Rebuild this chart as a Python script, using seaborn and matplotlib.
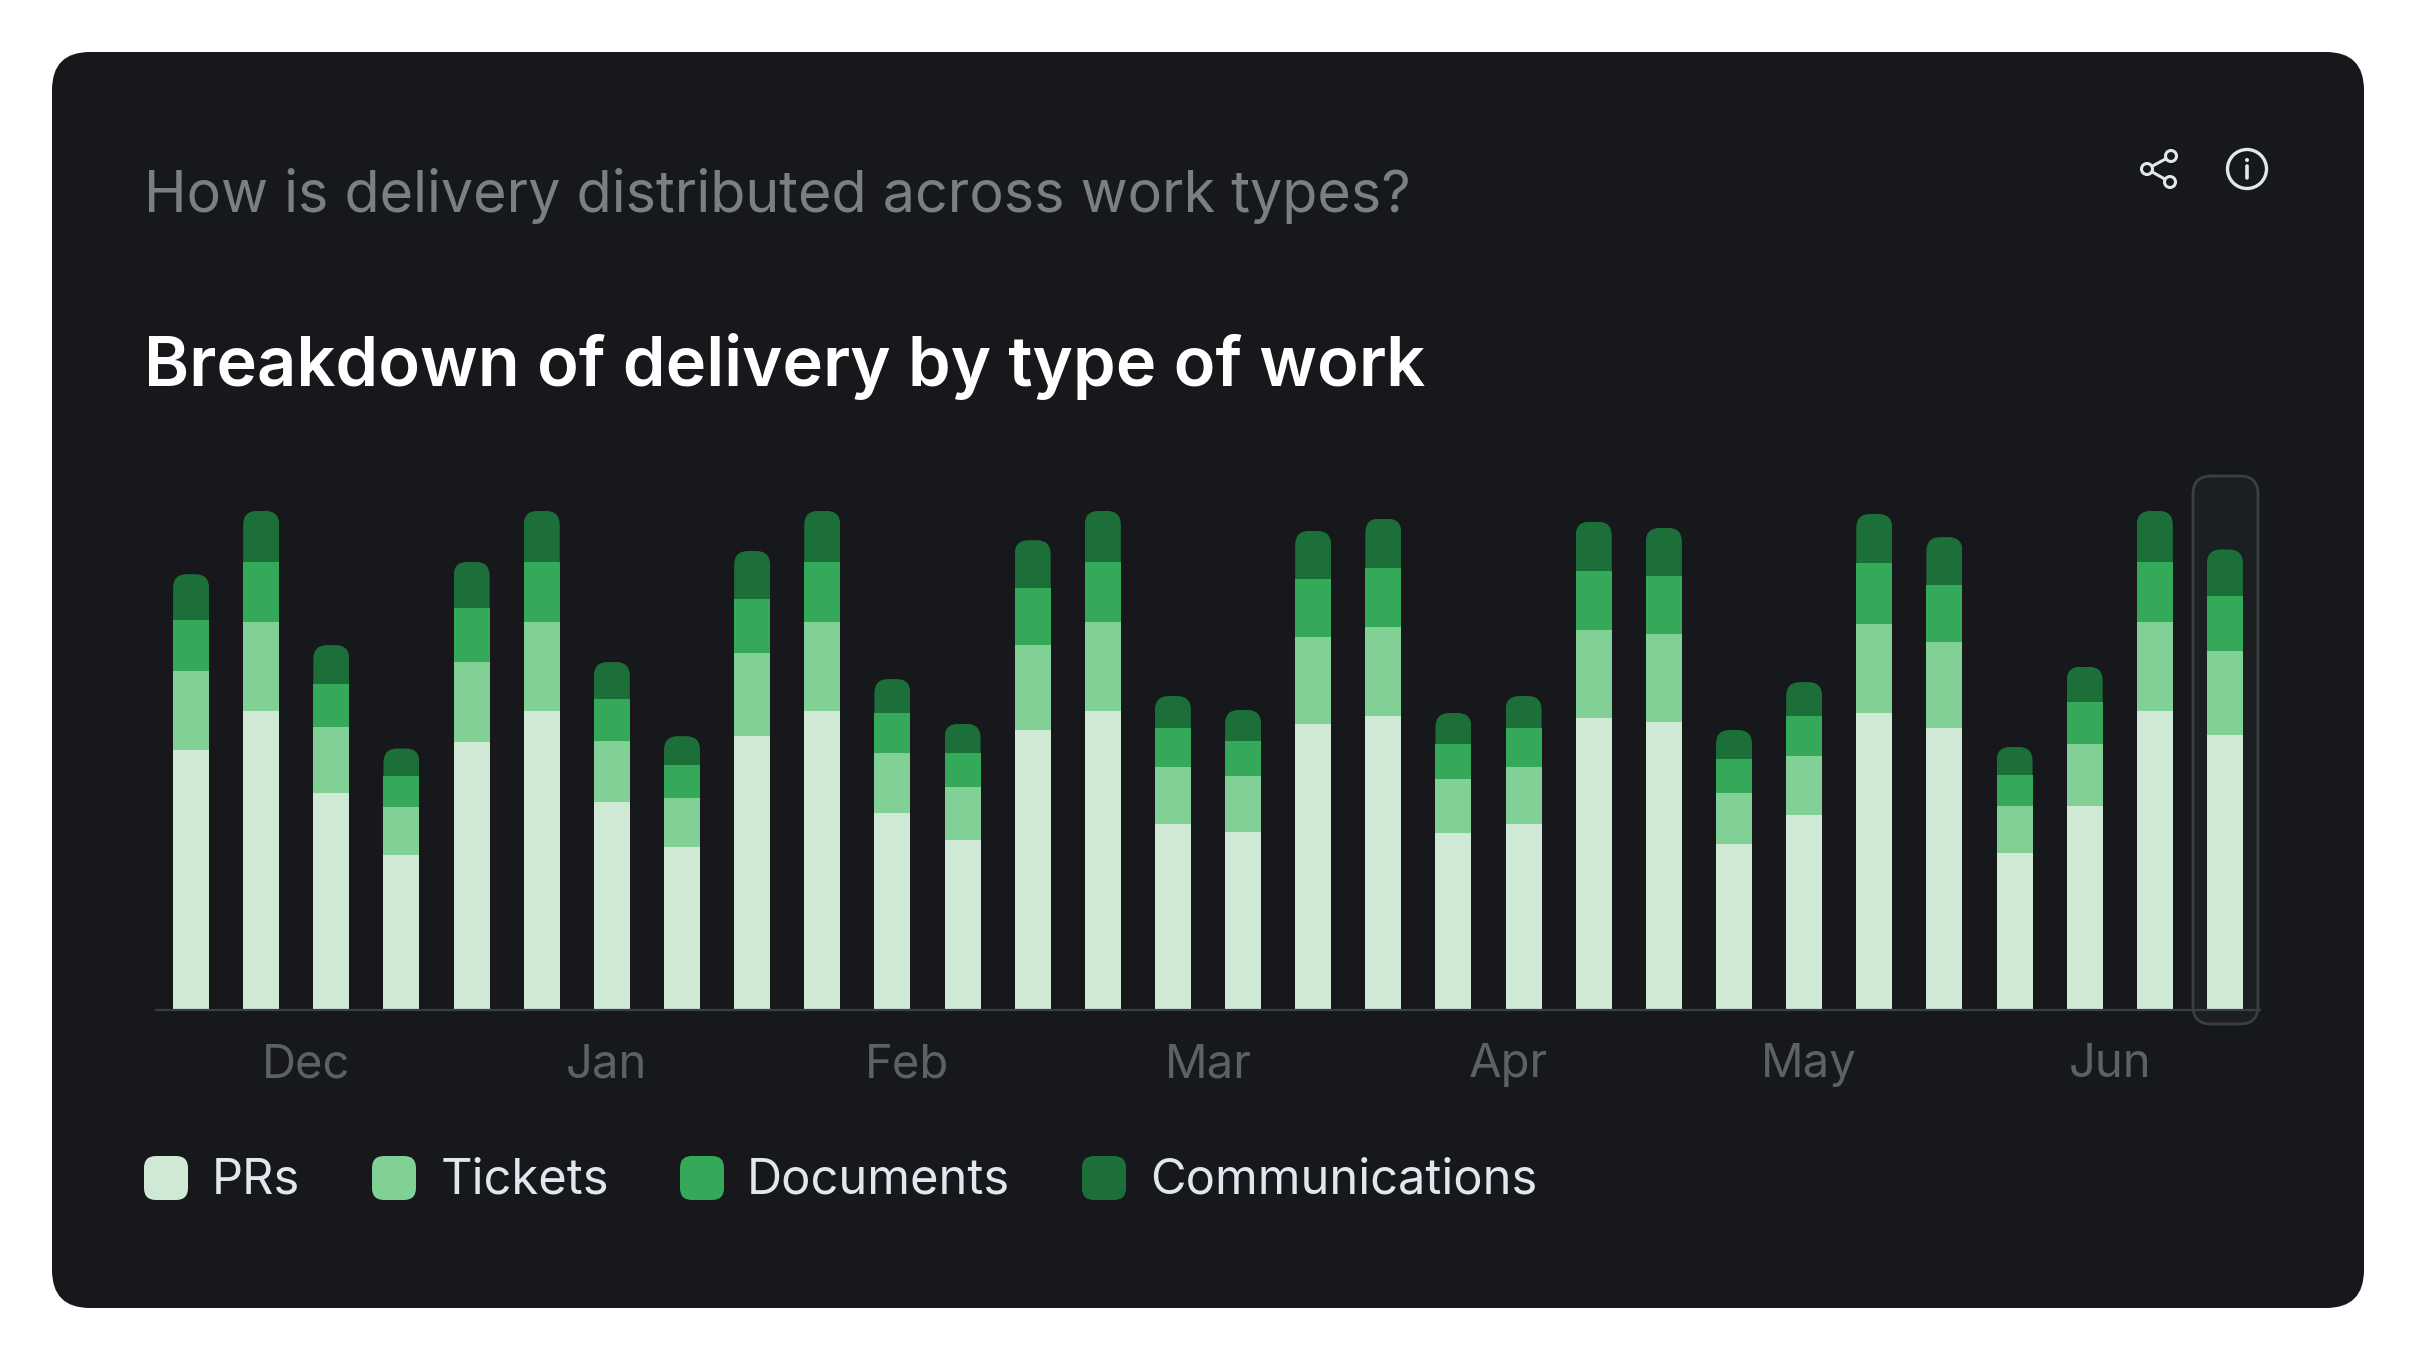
import numpy as np
import pandas as pd
import seaborn as sns
import matplotlib
matplotlib.use('Agg')
import matplotlib.pyplot as plt
from matplotlib.patches import FancyBboxPatch, Circle
from matplotlib.transforms import IdentityTransform

W, H = 2416, 1360

prs = [168.5, 193.5, 140.5, 100.5, 173.5, 193.5, 134.5, 105.5, 177.5, 193.5,
       127.5, 110.5, 181.5, 193.5, 120.5, 115.5, 185.5, 190.5, 114.5, 120.5,
       189.5, 186.5, 107.5, 126.5, 192.5, 182.5, 101.5, 132.5, 193.5, 178.5]
tickets = [51, 58, 43, 31, 52, 58, 40, 32, 54, 58, 39, 34, 55, 58, 37,
           36, 56, 58, 35, 37, 57, 57, 33, 38, 58, 56, 31, 40, 58, 54]
documents = [33, 39, 28, 20, 35, 39, 27, 21, 35, 39, 26, 22, 37, 39, 25,
             23, 38, 38, 23, 25, 38, 38, 22, 26, 39, 37, 20, 27, 39, 36]
communications = [30, 33, 25, 18, 30, 33, 24, 19, 31, 33, 22, 19, 31, 33, 21,
                  20, 31, 32, 20, 21, 32, 31, 19, 22, 32, 31, 18, 23, 33, 30]
months = ['Dec', 'Jan', 'Feb', 'Mar', 'Apr', 'May', 'Jun']
types = ['PRs', 'Tickets', 'Documents', 'Communications']
colors = ['#d0e9d5', '#81d196', '#34a95a', '#1d6f39']

BG = '#16181c'

sns.set_theme(style='white')
plt.rcParams['font.family'] = ['Inter', 'DejaVu Sans']

df = pd.DataFrame({'week': range(len(prs)), 'PRs': prs, 'Tickets': tickets,
                   'Documents': documents, 'Communications': communications})
long_df = df.melt(id_vars='week', var_name='type', value_name='count')

fig = plt.figure(figsize=(W / 100, H / 100), dpi=100, facecolor='white')

# card layer, in pixels
bg = fig.add_axes([0, 0, 1, 1], zorder=0)
bg.set_xlim(0, W)
bg.set_ylim(H, 0)
bg.axis('off')
bg.add_patch(FancyBboxPatch((52, 52), 2312, 1256, boxstyle='round,pad=0,rounding_size=38',
                            fc=BG, ec='none'))
bg.add_patch(FancyBboxPatch((2193, 476), 65, 548, boxstyle='round,pad=0,rounding_size=18',
                            fc='#1c1f22', ec='#3b3e42', lw=2))

bg.text(144, 196, 'How is delivery distributed across work types?', color='#7b7f83',
        fontsize=41.4, va='center', ha='left')
bg.text(144, 366, 'Breakdown of delivery by type of work', color='white',
        fontsize=49.4, fontweight='semibold', va='center', ha='left')

# share icon
icon = '#e3e6ea'
nodes = [(2147, 169), (2171, 156), (2170, 182)]
bg.plot([nodes[1][0], nodes[0][0], nodes[2][0]], [nodes[1][1], nodes[0][1], nodes[2][1]],
        color=icon, lw=2.2, zorder=3)
for n in nodes:
    bg.add_patch(Circle(n, 5.5, fc=BG, ec=icon, lw=2.2, zorder=4))
# info icon
bg.add_patch(Circle((2247, 169), 19.5, fc='none', ec=icon, lw=2.4))
bg.plot([2247, 2247], [166, 178], color=icon, lw=2.6, solid_capstyle='round')
bg.add_patch(Circle((2247, 160), 2, fc=icon, ec='none'))

# legend
swatch_x = [144, 372, 680, 1082]
label_x = [212, 441, 747, 1150]
for t, c, sx, lx in zip(types, colors, swatch_x, label_x):
    bg.add_patch(FancyBboxPatch((sx, 1156), 44, 44, boxstyle='round,pad=0,rounding_size=12',
                                fc=c, ec='none'))
    bg.text(lx, 1181, t, color='#e3e6ee', fontsize=35.2, va='center', ha='left')

# bars
left, right, base, height = 156, 2260, 1010, 540
ax = fig.add_axes([left / W, 1 - base / H, (right - left) / W, height / H], zorder=1)
ax.patch.set_alpha(0)
sns.histplot(data=long_df, x='week', weights='count', hue='type', hue_order=types[::-1],
             palette=dict(zip(types, colors)), multiple='stack', discrete=True, shrink=0.513,
             alpha=1, linewidth=0, legend=False, ax=ax)
ax.set_xlim(-0.5, 29.5)
ax.set_ylim(0, 350)
ax.set_xlabel('')
ax.set_ylabel('')
ax.set_yticks([])
ax.set_xticks([(i + 0.5) * len(prs) / len(months) - 0.5 for i in range(len(months))])
ax.set_xticklabels(months, fontsize=34, color='#5d6166')
ax.tick_params(axis='x', length=0, pad=24)
for s in ['top', 'left', 'right']:
    ax.spines[s].set_visible(False)
ax.spines['bottom'].set_color('#3b3e42')
ax.spines['bottom'].set_linewidth(1.6)

# round the top of each stack
fig.canvas.draw()
tops = {}
for p in ax.patches:
    k = round(p.get_x() + p.get_width() / 2)
    if k not in tops or p.get_y() + p.get_height() > tops[k].get_y() + tops[k].get_height():
        tops[k] = p
for p in tops.values():
    x0, y0 = ax.transData.transform((p.get_x(), p.get_y()))
    x1, y1 = ax.transData.transform((p.get_x() + p.get_width(), p.get_y() + p.get_height()))
    clip = FancyBboxPatch((x0, y0 - 20), x1 - x0, y1 - y0 + 20,
                          boxstyle='round,pad=0,rounding_size=14',
                          transform=IdentityTransform())
    p.set_clip_path(clip)

fig.savefig('out.png', dpi=100, facecolor='white')
